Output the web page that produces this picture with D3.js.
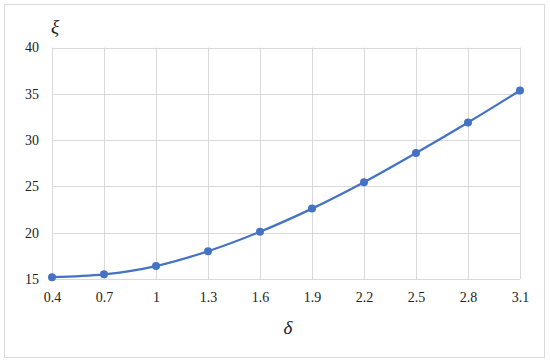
<!DOCTYPE html>
<html>
<head>
<meta charset="utf-8">
<script src="https://cdn.jsdelivr.net/npm/d3@7"></script>
<style>
    body { margin: 0; background: #fff; }
    .tick text { font-family: "Liberation Serif", "Times New Roman", serif; font-size: 14px; fill: #222; }
    .axisTitle { font-family: "Liberation Serif", "Times New Roman", serif; font-style: italic; font-size: 19px; fill: #222; }
</style>
</head>
<body>
<svg id="chart" width="550" height="364"></svg>
<script>
// chart values
var deltaLabels = ["0.4", "0.7", "1", "1.3", "1.6", "1.9", "2.2", "2.5", "2.8", "3.1"];
var xiValues = [15.2, 15.5, 16.4, 18.0, 20.1, 22.6, 25.45, 28.6, 31.9, 35.35];
var yTicks = [15, 20, 25, 30, 35, 40];

var svg = d3.select("#chart");

// outer frame
svg.append("rect")
    .attr("x", 4.5).attr("y", 4.5)
    .attr("width", 540).attr("height", 353)
    .attr("fill", "#fff")
    .attr("stroke", "#d9d9d9")
    .attr("stroke-width", 1);

var plotLeft = 52, plotRight = 520, plotTop = 47.5, plotBottom = 279;

var x = d3.scalePoint()
    .domain(deltaLabels)
    .range([plotLeft, plotRight]);

var y = d3.scaleLinear()
    .domain([15, 40])
    .range([plotBottom, plotTop]);

/*
 *** Grid lines
 */
svg.append("g")
    .selectAll("line")
    .data(yTicks)
    .enter().append("line")
    .attr("x1", plotLeft).attr("x2", plotRight)
    .attr("y1", function(d){ return Math.round(y(d)) + 0.5; })
    .attr("y2", function(d){ return Math.round(y(d)) + 0.5; })
    .attr("stroke", "#d9d9d9")
    .attr("stroke-width", 1);

svg.append("g")
    .selectAll("line")
    .data(deltaLabels)
    .enter().append("line")
    .attr("x1", function(d){ return Math.round(x(d)) + 0.5; })
    .attr("x2", function(d){ return Math.round(x(d)) + 0.5; })
    .attr("y1", plotTop).attr("y2", plotBottom)
    .attr("stroke", "#d9d9d9")
    .attr("stroke-width", 1);

/*
 *** Axes (labels only, lines come from the grid)
 */
var xAxis = svg.append("g")
    .attr("transform", "translate(0," + plotBottom + ")")
    .call(d3.axisBottom(x).tickSize(0).tickPadding(10));
xAxis.select(".domain").remove();
xAxis.selectAll(".tick text").attr("dy", "0.9em");

var yAxis = svg.append("g")
    .attr("transform", "translate(" + plotLeft + ",0)")
    .call(d3.axisLeft(y).tickValues(yTicks).tickSize(0).tickPadding(13));
yAxis.select(".domain").remove();

// axis titles
svg.append("text")
    .attr("class", "axisTitle")
    .attr("x", 55).attr("y", 33)
    .attr("text-anchor", "middle")
    .text("ξ");

svg.append("text")
    .attr("class", "axisTitle")
    .attr("x", 288).attr("y", 334)
    .attr("text-anchor", "middle")
    .text("δ");

/*
 *** Series line and markers
 */
var line = d3.line()
    .x(function(d, i){ return x(deltaLabels[i]); })
    .y(function(d){ return y(d); })
    .curve(d3.curveCatmullRom.alpha(0));

svg.append("path")
    .datum(xiValues)
    .attr("d", line)
    .attr("fill", "none")
    .attr("stroke", "#4472c4")
    .attr("stroke-width", 2.25);

svg.append("g")
    .selectAll("circle")
    .data(xiValues)
    .enter().append("circle")
    .attr("cx", function(d, i){ return x(deltaLabels[i]); })
    .attr("cy", function(d){ return y(d); })
    .attr("r", 4)
    .attr("fill", "#4472c4");
</script>
</body>
</html>
